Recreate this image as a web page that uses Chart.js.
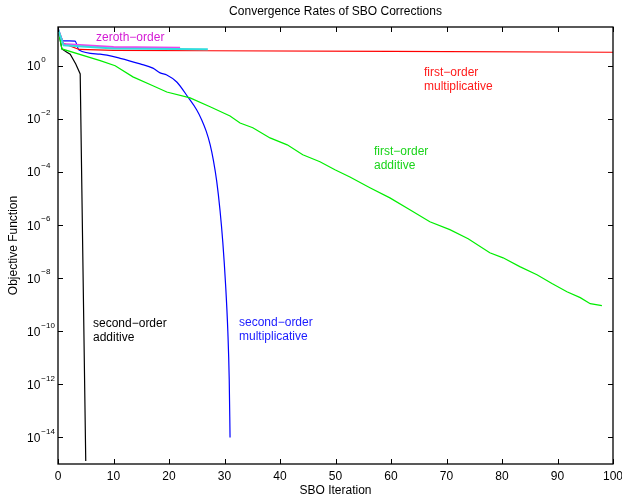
<!DOCTYPE html>
<html>
<head>
<meta charset="utf-8">
<script src="https://cdn.jsdelivr.net/npm/chart.js@4/dist/chart.umd.min.js"></script>
<style>
  body { margin: 0; background: #fff; }
  canvas { display: block; }
</style>
</head>
<body>
<canvas id="sboChart" width="622" height="499"></canvas>
<script>
// iteration ticks and decade ticks (10^e)
const xTicks = [0, 10, 20, 30, 40, 50, 60, 70, 80, 90, 100];
const decadeExps = [0, -2, -4, -6, -8, -10, -12, -14];

// zeroth-order
const zerothIter = [0, 0.95, 10, 22];
const zerothVal = [25, 6.8, 5.2, 4.9];

// zeroth-order (second curve, cyan)
const zeroth2Iter = [0, 1, 10, 27];
const zeroth2Val = [25, 6.0, 4.6, 4.3];

// first-order multiplicative
const firstMultIter = [0, 1, 3.8, 10, 27, 60, 100];
const firstMultVal = [25, 7.1, 4.2, 3.9, 3.76, 3.55, 3.3];

// first-order additive
const firstAddIter = [0, 0.7, 7.6, 10.3, 13.5, 17.1, 19.6, 23.8, 27.4, 31.0, 32.8, 35.1, 38.2, 41.3, 44.1,
  47.2, 49.9, 52.6, 56.2, 59.8, 63.4, 67.0, 70.6, 73.9, 77.8, 80.2, 83.2, 86.3, 89.0, 91.7, 94.1, 95.9, 98.0];
const firstAddVal = [25, 4.4, 1.6, 1.02, 0.39, 0.18, 0.105, 0.063, 0.029, 0.013, 7.1e-3, 4.7e-3, 1.95e-3,
  1.07e-3, 4.5e-4, 2.45e-4, 1.23e-4, 6.6e-5, 2.6e-5, 1.07e-5, 3.8e-6, 1.35e-6, 6.8e-7, 3.1e-7, 9.1e-8,
  5.9e-8, 2.75e-8, 1.35e-8, 6.3e-9, 3.1e-9, 1.86e-9, 1.1e-9, 9.3e-10];

// second-order multiplicative
const secondMultIter = [0, 0.95, 3.06, 3.78, 7.57, 11.2, 14.8, 17.1, 18.4, 19.6, 21.4, 23.4, 25.0, 25.9,
  26.7, 27.4, 28.0, 28.6, 29.2, 29.7, 30.2, 30.6, 30.85, 31.0];
const secondMultVal = [25, 8.9, 8.7, 4.0, 2.8, 1.95, 1.2, 0.83, 0.55, 0.46, 0.25, 0.068, 0.022, 9.3e-3,
  3.5e-3, 1.12e-3, 2.8e-4, 4.5e-5, 3.5e-6, 2.2e-7, 5.6e-9, 1.0e-10, 1.6e-12, 1.0e-14];

// second-order additive
const secondAddIter = [0, 0.7, 1.6, 2.2, 3.2, 4.0, 5.0];
const secondAddVal = [25, 4.4, 3.3, 2.8, 1.2, 0.5, 1.3e-15];

const FONT = '"Liberation Sans", Arial, Helvetica, sans-serif';

function pts(xs, ys) {
  return xs.map((x, i) => ({ x: x, y: ys[i] }));
}

function series(xs, ys, color, width, smooth) {
  return {
    data: pts(xs, ys),
    borderColor: color,
    backgroundColor: color,
    borderWidth: width,
    pointRadius: 0,
    cubicInterpolationMode: smooth ? 'monotone' : 'default',
    tension: smooth ? 0.4 : 0,
    fill: false
  };
}

// curve labels, left edge + first line centre in px
const notes = [
  { lines: ['zeroth\u2212order'], x: 96, y: 38, color: '#d41ad4' },
  { lines: ['first\u2212order', 'multiplicative'], x: 424, y: 73, color: '#ff1a1a' },
  { lines: ['first\u2212order', 'additive'], x: 374, y: 152, color: '#1ad41a' },
  { lines: ['second\u2212order', 'additive'], x: 93, y: 324, color: '#000' },
  { lines: ['second\u2212order', 'multiplicative'], x: 239, y: 323, color: '#1a1aff' }
];

const framePlugin = {
  id: 'frame',
  afterDatasetsDraw(chart) {
    const { ctx, chartArea: a, scales } = chart;
    const xs = scales.x, ys = scales.y;
    ctx.save();
    ctx.strokeStyle = '#000';
    ctx.lineWidth = 1.3;
    ctx.strokeRect(a.left, a.top, a.right - a.left, a.bottom - a.top);

    // inward ticks
    ctx.lineWidth = 1;
    ctx.beginPath();
    xTicks.forEach(v => {
      const px = Math.round(xs.getPixelForValue(v)) + 0.5;
      ctx.moveTo(px, a.bottom); ctx.lineTo(px, a.bottom - 5);
      ctx.moveTo(px, a.top); ctx.lineTo(px, a.top + 5);
    });
    decadeExps.forEach(e => {
      const py = Math.round(ys.getPixelForValue(Math.pow(10, e))) + 0.5;
      ctx.moveTo(a.left, py); ctx.lineTo(a.left + 5, py);
      ctx.moveTo(a.right, py); ctx.lineTo(a.right - 5, py);
    });
    ctx.stroke();

    ctx.fillStyle = '#000';
    ctx.textBaseline = 'middle';

    // x tick labels
    ctx.font = '12px ' + FONT;
    ctx.textAlign = 'center';
    xTicks.forEach(v => ctx.fillText(String(v), xs.getPixelForValue(v), a.bottom + 13));

    // y tick labels 10^e
    ctx.textAlign = 'left';
    decadeExps.forEach(e => {
      const py = ys.getPixelForValue(Math.pow(10, e));
      ctx.font = '12px ' + FONT;
      ctx.fillText('10', 27, py + 1);
      const w = ctx.measureText('10').width;
      ctx.font = '8px ' + FONT;
      ctx.fillText(e < 0 ? '\u2212' + (-e) : String(e), 27 + w + 1, py - 6);
    });

    // curve labels
    ctx.font = '12px ' + FONT;
    notes.forEach(n => {
      ctx.fillStyle = n.color;
      n.lines.forEach((t, i) => ctx.fillText(t, n.x, n.y + i * 14));
    });

    // titles
    ctx.fillStyle = '#000';
    ctx.textAlign = 'center';
    ctx.fillText('Convergence Rates of SBO Corrections', (a.left + a.right) / 2, 12);
    ctx.fillText('SBO Iteration', (a.left + a.right) / 2, 491);
    ctx.translate(14, (a.top + a.bottom) / 2);
    ctx.rotate(-Math.PI / 2);
    ctx.fillText('Objective Function', 0, 0);
    ctx.restore();
  }
};

new Chart(document.getElementById('sboChart'), {
  type: 'line',
  data: {
    datasets: [
      series(zeroth2Iter, zeroth2Val, '#33dddd', 2),
      series(zerothIter, zerothVal, '#ee44ee', 2),
      series(firstMultIter, firstMultVal, '#ff0000', 1.2),
      series(firstAddIter, firstAddVal, '#00ee00', 1.2),
      series(secondMultIter, secondMultVal, '#0000ff', 1.2, true),
      series(secondAddIter, secondAddVal, '#000000', 1.2)
    ]
  },
  options: {
    responsive: false,
    animation: false,
    devicePixelRatio: 1,
    layout: { padding: { left: 0, right: 9, top: 27, bottom: 0 } },
    plugins: {
      legend: { display: false },
      tooltip: { enabled: false },
      title: { display: false }
    },
    scales: {
      x: {
        type: 'linear',
        min: 0,
        max: 100,
        afterBuildTicks: s => { s.ticks = xTicks.map(v => ({ value: v })); },
        afterFit: s => { s.height = 35; },
        grid: { display: false, drawTicks: false },
        border: { display: false },
        ticks: { display: false }
      },
      y: {
        type: 'logarithmic',
        min: 1e-15,
        max: Math.pow(10, 1.47),
        afterBuildTicks: s => { s.ticks = decadeExps.map(e => ({ value: Math.pow(10, e) })); },
        afterFit: s => { s.width = 58; },
        grid: { display: false, drawTicks: false },
        border: { display: false },
        ticks: { display: false }
      }
    }
  },
  plugins: [framePlugin]
});
</script>
</body>
</html>
